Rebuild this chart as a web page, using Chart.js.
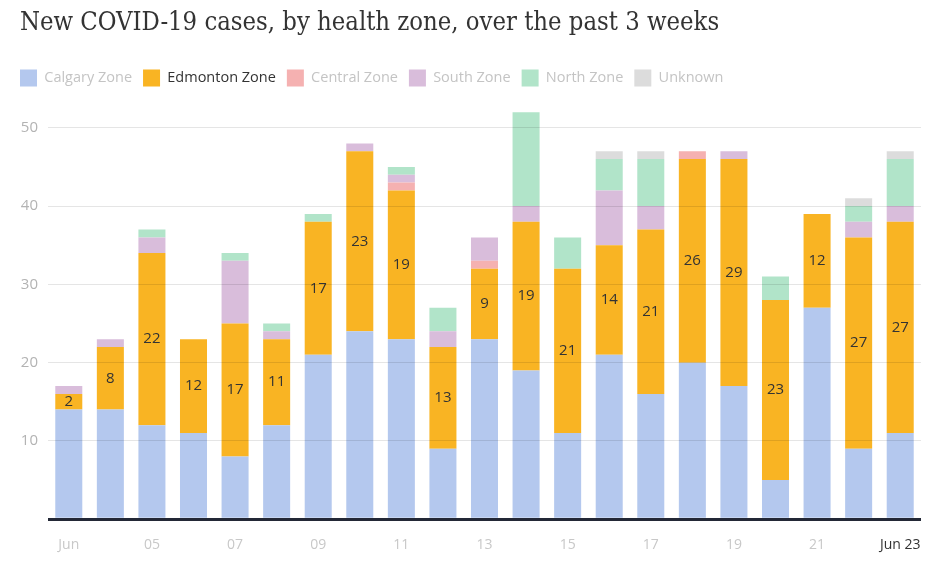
<!DOCTYPE html>
<html><head><meta charset="utf-8">
<script src="https://cdn.jsdelivr.net/npm/chart.js@4.4.0/dist/chart.umd.min.js"></script>
<style>html,body{margin:0;padding:0;background:#fff;}#wrap{width:945px;height:562px;}</style>
</head><body><div id="wrap"><canvas id="c" width="945" height="562"></canvas></div>
<script>
const categories = ['Jun 03','Jun 04','Jun 05','Jun 06','Jun 07','Jun 08','Jun 09','Jun 10','Jun 11','Jun 12','Jun 13','Jun 14','Jun 15','Jun 16','Jun 17','Jun 18','Jun 19','Jun 20','Jun 21','Jun 22','Jun 23'];
const tickLabels = ['Jun','','05','','07','','09','','11','','13','','15','','17','','19','','21','','Jun 23'];
const calgary  = [14,14,12,11,8,12,21,24,23,9,23,19,11,21,16,20,17,5,27,9,11];
const edmonton = [2,8,22,12,17,11,17,23,19,13,9,19,21,14,21,26,29,23,12,27,27];
const central  = [0,0,0,0,0,0,0,0,1,0,1,0,0,0,0,1,0,0,0,0,0];
const south    = [1,1,2,0,8,1,0,1,1,2,3,2,0,7,3,0,1,0,0,2,2];
const north    = [0,0,1,0,1,1,1,0,1,3,0,12,4,4,6,0,0,3,0,2,6];
const unknown  = [0,0,0,0,0,0,0,0,0,0,0,0,0,1,1,0,0,0,0,1,1];
const yTicks   = [0,10,20,30,40,50];
const seriesNames = ['Calgary Zone','Edmonton Zone','Central Zone','South Zone','North Zone','Unknown'];

const colors = ['#b4c8ee','#f9b423','#f5b1b1','#d9bddb','#b1e4c9','#dcdcdc'];
const legendText = ['#c4c4c4','#333333','#c4c4c4','#c4c4c4','#c4c4c4','#c4c4c4'];
const series = [calgary, edmonton, central, south, north, unknown];

const edmLabels = {
  id: 'edmLabels',
  afterLayout(chart) {
    if (chart.legend) { chart.legend.left -= 11; chart.legend.right -= 11; }
  },
  afterDatasetsDraw(chart) {
    const meta = chart.getDatasetMeta(1);
    const ctx = chart.ctx;
    ctx.save();
    ctx.font = '15px "Open Sans"';
    ctx.fillStyle = '#333';
    ctx.textAlign = 'center';
    ctx.textBaseline = 'middle';
    meta.data.forEach((el, i) => {
      const p = el.getProps(['x', 'y', 'base'], true);
      ctx.fillText(String(edmonton[i]), p.x, (p.y + p.base) / 2);
    });
    ctx.restore();
  }
};

new Chart(document.getElementById('c'), {
  type: 'bar',
  data: {
    labels: categories,
    datasets: series.map((d, i) => ({
      label: seriesNames[i],
      data: d,
      backgroundColor: colors[i],
      borderWidth: 0,
      categoryPercentage: 1,
      barPercentage: 0.65
    }))
  },
  options: {
    responsive: false,
    animation: false,
    devicePixelRatio: 1,
    layout: { padding: { left: 20, right: 24, top: 0, bottom: 0 } },
    plugins: {
      title: {
        display: true,
        text: 'New COVID-19 cases, by health zone, over the past 3 weeks',
        align: 'start',
        color: '#333',
        font: { family: '"DejaVu Serif Condensed", "DejaVu Serif", serif', size: 25.4, weight: 'normal' },
        padding: { top: 8, bottom: 20 }
      },
      legend: {
        display: true,
        align: 'start',
        labels: {
          boxWidth: 17,
          boxHeight: 17,
          padding: 11,
          font: { family: '"Open Sans"', size: 14.5 },
          generateLabels(chart) {
            return chart.data.datasets.map((ds, i) => ({
              text: ds.label,
              fillStyle: colors[i],
              strokeStyle: colors[i],
              lineWidth: 0,
              fontColor: legendText[i],
              datasetIndex: i,
              hidden: false
            }));
          }
        }
      },
      tooltip: { enabled: false }
    },
    scales: {
      x: {
        stacked: true,
        grid: { display: false },
        border: { display: false },
        ticks: {
          autoSkip: false,
          maxRotation: 0,
          padding: 9,
          font: { family: '"Open Sans"', size: 14 },
          color: (c) => (c.index === tickLabels.length - 1 ? '#333' : '#c8c8c8'),
          callback: (v, i) => tickLabels[i]
        }
      },
      y: {
        stacked: true,
        min: 0,
        max: 54,
        border: { display: false },
        grid: {
          color: (c) => (c.tick && c.tick.value === 0 ? '#232836' : 'rgba(0,0,0,0.1)'),
          lineWidth: (c) => (c.tick && c.tick.value === 0 ? 3 : 1),
          drawTicks: false,
          z: 1
        },
        afterBuildTicks: (scale) => { scale.ticks = yTicks.map(v => ({ value: v })); },
        afterFit: (scale) => { scale.width = 28; },
        ticks: {
          padding: 10,
          font: { family: '"Open Sans"', size: 15 },
          color: '#b3b3b3',
          callback: (v) => (v === 0 ? '' : v)
        }
      }
    }
  },
  plugins: [edmLabels]
});
</script>
</body></html>
